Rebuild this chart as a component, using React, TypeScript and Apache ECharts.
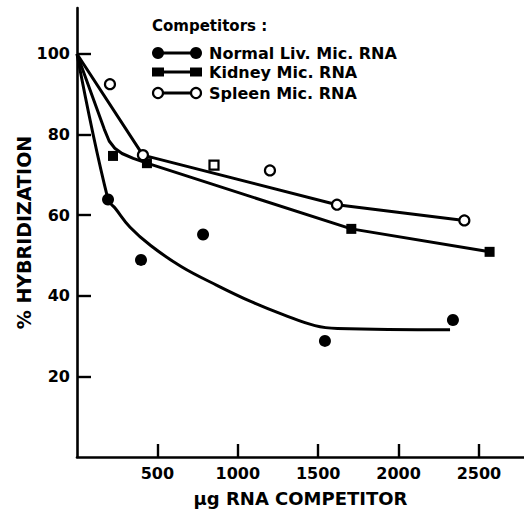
import React, { useEffect, useRef } from "react";
import * as echarts from "echarts";

// ---- data ----
const xTicks = [500, 1000, 1500, 2000, 2500];
const yTicks = [20, 40, 60, 80, 100];

// measured points
const liverPtsX = [193, 398, 784, 1542, 2338];
const liverPtsY = [63.9, 48.9, 55.2, 28.8, 34.0];
const kidneyPtsX = [224, 435, 1706, 2566];
const kidneyPtsY = [74.7, 72.9, 56.6, 50.9];
const spleenPtsX = [205, 410, 852, 1200, 1617, 2409];
const spleenPtsY = [92.5, 74.9, 72.4, 71.1, 62.6, 58.7];
const spleenSymbols = ["circle", "circle", "rect", "circle", "circle", "circle"];

// fitted (hand-drawn) curves
const liverFitX = [0, 193, 240, 330, 460, 650, 870, 1080, 1290, 1480, 1620, 2320];
const liverFitY = [100, 63.9, 61.6, 57.0, 52.4, 47.2, 42.6, 38.6, 35.2, 32.6, 31.9, 31.6];
const kidneyFitX = [0, 170, 200, 235, 280, 350, 435, 1706, 2566];
const kidneyFitY = [100, 81.3, 78.4, 76.6, 75.3, 74.1, 72.9, 56.6, 50.9];
const spleenFitX = [0, 410, 1617, 2409];
const spleenFitY = [100, 74.9, 62.6, 58.7];

const legendTitle = "Competitors :";
const legendNames = ["Normal Liv. Mic. RNA", "Kidney Mic. RNA", "Spleen Mic. RNA"];
const xName = "\u00b5g RNA COMPETITOR";
const yName = "% HYBRIDIZATION";

const zip = (xs: number[], ys: number[]) => xs.map((x, i) => [x, ys[i]]);

const FONT = "DejaVu Sans";

export default function App() {
  const ref = useRef<HTMLDivElement>(null);
  useEffect(() => {
    if (!ref.current) return;
    const chart = echarts.init(ref.current, undefined, { renderer: "svg" });
    const axisCommon = {
      type: "value" as const,
      axisLine: { show: true, lineStyle: { color: "#000", width: 2.6 } },
      splitLine: { show: false },
      nameLocation: "middle" as const,
      nameMoveOverlap: false,
      nameTextStyle: { fontFamily: FONT, fontWeight: "bold", color: "#000" },
    };
    const lineStyle = { color: "#000", width: 3, opacity: 1 };
    const rowY = [53, 72, 93];
    const legendEls: any[] = [
      {
        type: "text",
        x: 152,
        y: 26,
        style: { text: legendTitle, font: `bold 15px "${FONT}"`, fill: "#000", textVerticalAlign: "middle" },
      },
    ];
    rowY.forEach((y, i) => {
      legendEls.push({ type: "line", shape: { x1: 158, y1: y, x2: 196, y2: y }, style: { stroke: "#000", lineWidth: 3 } });
      [158, 196].forEach((cx) => {
        if (i === 0) legendEls.push({ type: "circle", shape: { cx, cy: y, r: 6 }, style: { fill: "#000" } });
        else if (i === 1) legendEls.push({ type: "rect", shape: { x: cx - 6, y: y - 4.5, width: 12, height: 9 }, style: { fill: "#000" } });
        else legendEls.push({ type: "circle", shape: { cx, cy: y, r: 5 }, style: { fill: "#fff", stroke: "#000", lineWidth: 2.2 } });
      });
      legendEls.push({
        type: "text",
        x: 209,
        y: y,
        style: { text: legendNames[i], font: `bold 16px "${FONT}"`, fill: "#000", textVerticalAlign: "middle" },
      });
    });

    const labelStyle = {
      fontFamily: FONT,
      fontWeight: "bold",
      fontSize: 16,
      color: "#000",
      formatter: (v: number) => String(v),
    };

    chart.setOption({
      animation: false,
      backgroundColor: "#fff",
      grid: { left: 77, right: 0, top: 8, bottom: 57, containLabel: false, outerBoundsMode: "none" },
      xAxis: {
        ...axisCommon,
        min: 0,
        max: 2780,
        name: xName,
        nameGap: 32,
        nameTextStyle: { ...axisCommon.nameTextStyle, fontSize: 18 },
        axisTick: { show: true, inside: true, length: 13, lineStyle: { color: "#000", width: 2.4 }, customValues: xTicks },
        axisLabel: { ...labelStyle, customValues: xTicks, margin: 8 },
      },
      yAxis: {
        ...axisCommon,
        min: 0,
        max: 111.4,
        name: yName,
        nameGap: 44,
        nameTextStyle: { ...axisCommon.nameTextStyle, fontSize: 19 },
        axisTick: { show: true, inside: true, length: 14, lineStyle: { color: "#000", width: 2.4 }, customValues: yTicks },
        axisLabel: { ...labelStyle, customValues: yTicks, margin: 7 },
      },
      graphic: legendEls,
      series: [
        { type: "line", data: zip(liverFitX, liverFitY), symbol: "none", smooth: 0.4, lineStyle, z: 2 },
        { type: "line", data: zip(kidneyFitX, kidneyFitY), symbol: "none", lineStyle, z: 2 },
        { type: "line", data: zip(spleenFitX, spleenFitY), symbol: "none", lineStyle, z: 2 },
        {
          type: "scatter",
          data: zip(liverPtsX, liverPtsY),
          symbol: "circle",
          symbolSize: 12,
          itemStyle: { color: "#000", opacity: 1 },
          z: 5,
        },
        {
          type: "scatter",
          data: zip(kidneyPtsX, kidneyPtsY),
          symbol: "rect",
          symbolSize: 10,
          itemStyle: { color: "#000", opacity: 1 },
          z: 5,
        },
        {
          type: "scatter",
          data: spleenPtsX.map((x, i) => ({
            value: [x, spleenPtsY[i]],
            symbol: spleenSymbols[i],
            symbolSize: spleenSymbols[i] === "rect" ? 9 : 10,
          })),
          itemStyle: { color: "#fff", borderColor: "#000", borderWidth: 2.2, opacity: 1 },
          z: 5,
        },
      ],
    });
    return () => chart.dispose();
  }, []);
  return (
    <div
      ref={ref}
      style={{ position: "fixed", left: 0, top: 0, width: 524, height: 514, background: "#fff" }}
    />
  );
}
